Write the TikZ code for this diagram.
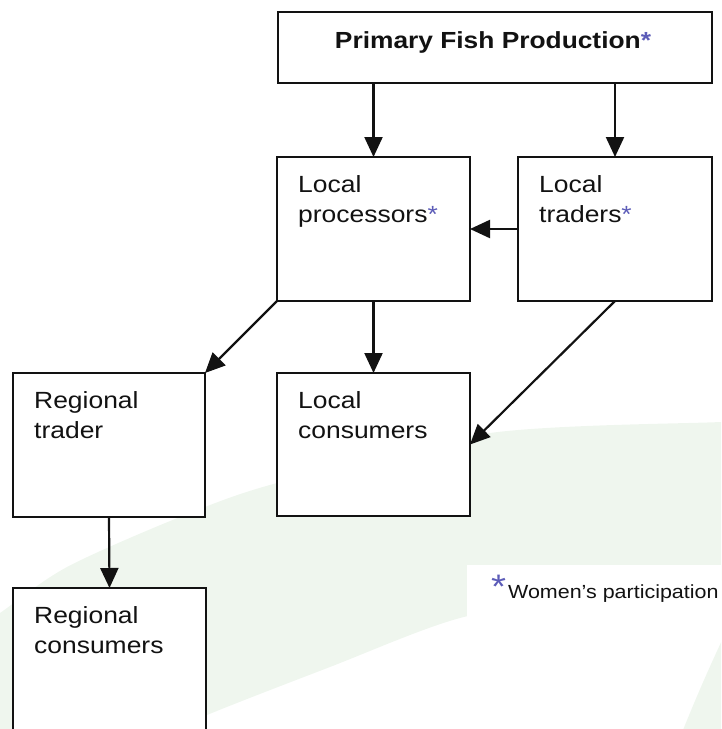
\documentclass[tikz,border=0pt]{standalone}
\usepackage{fontspec}
\setmainfont{Liberation Sans}[FakeStretch=1.13]
\usetikzlibrary{arrows.meta}
\definecolor{starblue}{RGB}{92,92,184}
\definecolor{bggreen}{RGB}{239,246,238}
\definecolor{ink}{RGB}{18,18,18}
\newcommand{\wstar}{\textcolor{starblue}{*}}
\begin{document}
\begin{tikzpicture}[x=1pt,y=-1pt,
  box/.style={draw=ink, line width=2.2pt, fill=white, rectangle, anchor=north west,
              inner sep=0pt, outer sep=0pt},
  lbl/.style={anchor=base west, inner sep=0pt, text=ink,
              font=\fontsize{23.4}{30}\selectfont},
  arr/.style={draw=ink, line width=2.2pt, -{Triangle[length=20pt,width=18pt]}}]
\useasboundingbox (0,0) rectangle (721,729);
\begin{scope}
\clip (0,0) rectangle (721,729);
% background swoosh
\fill[bggreen] plot[smooth] coordinates {(-20,626) (0,613) (67,567) (180,517) (277,483) (490,433) (721,422) (745,421)}
   -- (745,578) -- plot[smooth] coordinates {(745,578) (600,594) (460,618) (330,667) (200,718) (150,745)}
   -- (-20,745) -- cycle;
\fill[bggreen] (681,735) .. controls (695,700) and (708,670) .. (724,636) -- (745,636) -- (745,735) -- cycle;
\fill[white] (467,565) rectangle (745,617);

% boxes
\node[box, minimum width=434pt, minimum height=71pt] (P) at (278,12) {};
\node[box, minimum width=193pt, minimum height=144pt] (LP) at (277,157) {};
\node[box, minimum width=194pt, minimum height=144pt] (LT) at (518,157) {};
\node[box, minimum width=192pt, minimum height=144pt] (RT) at (13,373) {};
\node[box, minimum width=193pt, minimum height=143pt] (LC) at (277,373) {};
\node[box, minimum width=193pt, minimum height=160pt] (RC) at (13,588) {};

% texts
\node[anchor=base, inner sep=0pt, text=ink, font=\fontsize{23.3}{28}\selectfont\bfseries] (Pt) at (493,48) {Primary Fish Production\wstar};
\node[lbl, xshift=21pt, yshift=-35pt] (LPt) at (LP.north west) {\parbox[t]{170pt}{\raggedright Local\\processors\wstar}};
\node[lbl, xshift=21pt, yshift=-35pt] (LTt) at (LT.north west) {\parbox[t]{170pt}{\raggedright Local\\traders\wstar}};
\node[lbl, xshift=21pt, yshift=-35pt] (RTt) at (RT.north west) {\parbox[t]{170pt}{\raggedright Regional\\trader}};
\node[lbl, xshift=21pt, yshift=-35pt] (LCt) at (LC.north west) {\parbox[t]{170pt}{\raggedright Local\\consumers}};
\node[lbl, xshift=21pt, yshift=-35pt] (RCt) at (RC.north west) {\parbox[t]{170pt}{\raggedright Regional\\consumers}};
\node[anchor=base west, inner sep=0pt, text=ink, font=\fontsize{19}{23}\selectfont] (legend) at (491,598)
  {{\fontsize{34}{34}\selectfont\textcolor{starblue}{*}}\hspace{2pt}Women’s participation};

% connectors
\draw[arr] (LP.north |- P.south) -- (LP.north);
\draw[arr] (LT.north |- P.south) -- (LT.north);
\draw[arr] (LT.west) -- (LP.east);
\draw[arr] (LP.south west) -- (RT.north east);
\draw[arr] (LP.south) -- (LC.north);
\draw[arr] (LT.south) -- (LC.east);
\draw[arr] (RT.south) -- (RC.north);
\end{scope}
\end{tikzpicture}
\end{document}
